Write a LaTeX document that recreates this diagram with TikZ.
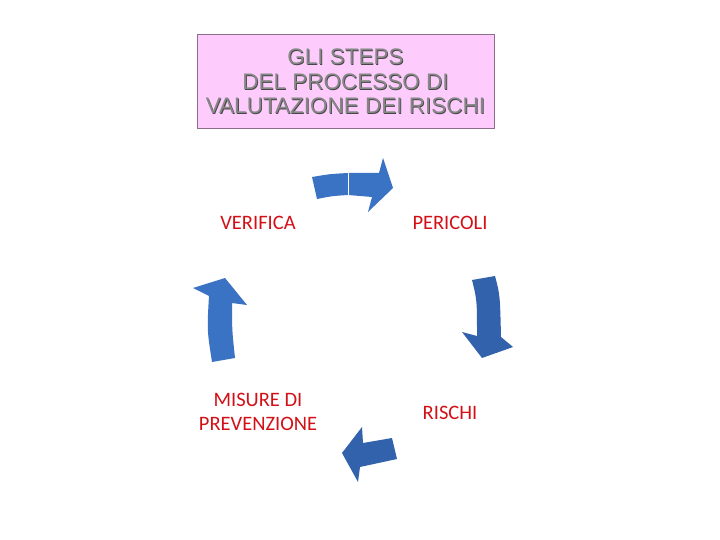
\documentclass[tikz,border=0pt]{standalone}
\usepackage{fontspec}
\setmainfont{Carlito}
\newfontfamily\titlefont{Liberation Sans}
\definecolor{labred}{RGB}{210,16,22}
\definecolor{boxpink}{RGB}{253,204,253}
\definecolor{boxline}{RGB}{140,110,140}
\definecolor{arrowblue}{RGB}{58,114,196}
\definecolor{arrowdark}{RGB}{50,98,172}
\definecolor{titlegray}{RGB}{135,135,135}
\definecolor{titledark}{RGB}{70,70,70}
\begin{document}
\begin{tikzpicture}[x=1pt,y=-1pt,
  lbl/.style={text=labred,font=\fontsize{20.5}{24}\selectfont,align=center,inner sep=0pt},
  ttl/.style={font=\titlefont\fontsize{22.5}{24.5}\selectfont,align=center,inner sep=0pt},
  blockarrow/.style={fill=arrowblue,draw=none},
  blockarrowdark/.style={fill=arrowdark,draw=none}]
\useasboundingbox (0,0) rectangle (720,540);
% title box
\node[draw=boxline,fill=boxpink,line width=0.8pt,minimum width=297pt,minimum height=94pt,inner sep=0pt] (box) at (345.5,81) {};
\node[ttl,text=titledark] (tshadow) at (346.3,82.3) {GLI STEPS\\DEL PROCESSO DI\\VALUTAZIONE DEI RISCHI};
\node[ttl,text=titlegray] (title) at (345.5,81.5) {GLI STEPS\\DEL PROCESSO DI\\VALUTAZIONE DEI RISCHI};
% labels
\node[lbl] (verifica) at (258,223) {VERIFICA};
\node[lbl] (pericoli) at (450,223) {PERICOLI};
\node[lbl] (rischi) at (450,413) {RISCHI};
\node[lbl] (misure) at (258,412) {MISURE DI\\PREVENZIONE};
% top arrow
\fill[blockarrow] (312,177) .. controls (330,174) .. (348,173) -- (379,173) -- (383,158) -- (393,188) -- (368,212) -- (372,197) -- (348,195) .. controls (332,196) .. (317,199) -- cycle;
\draw[white,line width=0.8pt] (348,173) -- (348,195);
% right arrow
\fill[blockarrowdark] (472,280) -- (495,276) .. controls (500,295) .. (501,337) -- (513,347) -- (482,358) -- (462,332) -- (477,336) .. controls (477,300) .. (472,280) -- cycle;
% bottom arrow
\fill[blockarrowdark] (397,459) -- (392,438) -- (363,443) -- (362,427) -- (342,453) -- (358,482) -- (360,467) -- cycle;
% left arrow
\fill[blockarrow] (212,362) -- (235,358) .. controls (232,330) .. (232,303) -- (247,305) -- (225,278) -- (193,288) -- (209,296) .. controls (207,330) .. (212,362) -- cycle;
\end{tikzpicture}
\end{document}
